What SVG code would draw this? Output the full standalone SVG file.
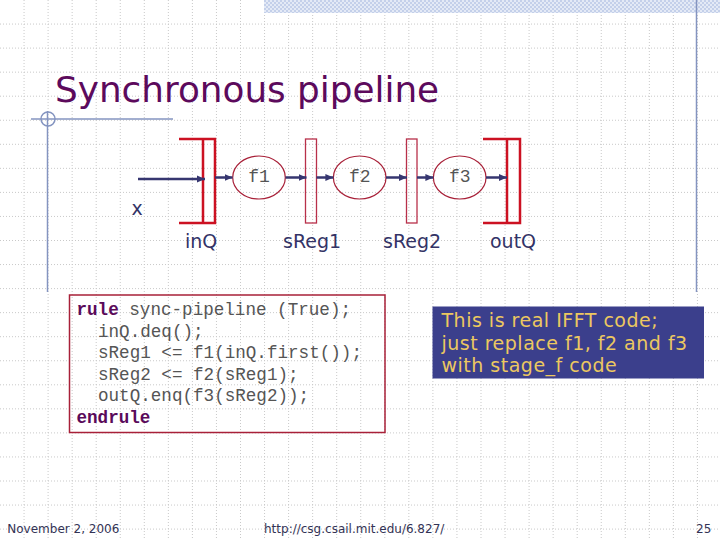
<svg xmlns="http://www.w3.org/2000/svg" width="720" height="540" viewBox="0 0 720 540">
<defs>
<pattern id="hatch" width="4" height="4" patternUnits="userSpaceOnUse">
<rect width="4" height="4" fill="#e4eaf6"/>
<rect width="2" height="2" fill="#c4d0ea"/>
<rect x="2" y="2" width="2" height="2" fill="#c4d0ea"/>
</pattern>
<marker id="ah" markerUnits="userSpaceOnUse" markerWidth="9" markerHeight="8" refX="8" refY="4" orient="auto">
<path d="M0,0.5 L8,4 L0,7.5 z" fill="#363670"/>
</marker>
<style>
.grid{stroke:#c9c9c9;stroke-width:1;stroke-dasharray:1 2;fill:none}
.deco{stroke:#8494c0;stroke-width:1.5;fill:none}
.q{stroke:#cc1122;stroke-width:2.5;fill:none}
.reg{stroke:#b8304a;stroke-width:1.3;fill:none}
.fn{stroke:#a82038;stroke-width:1.2;fill:none}
.arr{stroke:#363670;stroke-width:2.5;fill:none;marker-end:url(#ah)}
.fl{font-family:"Liberation Mono","DejaVu Sans Mono",monospace;font-size:18px;fill:#555555;text-anchor:middle}
.lbl{font-family:"DejaVu Sans",Verdana,sans-serif;font-size:19px;fill:#333366}
.code{font-family:"Liberation Mono","DejaVu Sans Mono",monospace;font-size:17.6px;fill:#555555}
.kw{font-weight:bold;fill:#5a0a5a}
.note{font-family:"DejaVu Sans",Verdana,sans-serif;font-size:19px;letter-spacing:0.5px;fill:#ecc860}
.foot{font-family:"DejaVu Sans",Tahoma,sans-serif;font-size:12px;fill:#333355}
</style>
</defs>
<rect width="720" height="540" fill="#ffffff"/>
<g id="grid">
<path class="grid" d="M24.05,0V540M48.1,0V540M72.15,0V540M96.2,0V540M120.25,0V540M144.3,0V540M168.35,0V540M192.4,0V540M216.45,0V540M240.5,0V540M264.55,0V540M288.6,0V540M312.65,0V540M336.7,0V540M360.75,0V540M384.8,0V540M408.85,0V540M432.9,0V540M456.95,0V540M481,0V540M505.05,0V540M529.1,0V540M553.15,0V540M577.2,0V540M601.25,0V540M625.3,0V540M649.35,0V540M673.4,0V540M697.45,0V540M0,24.05H720M0,48.1H720M0,72.15H720M0,96.2H720M0,120.25H720M0,144.3H720M0,168.35H720M0,192.4H720M0,216.45H720M0,240.5H720M0,264.55H720M0,288.6H720M0,312.65H720M0,336.7H720M0,360.75H720M0,384.8H720M0,408.85H720M0,432.9H720M0,456.95H720M0,481H720M0,505.05H720M0,529.1H720"/>
</g>
<g id="decor">
<rect x="264" y="0" width="456" height="13" fill="url(#hatch)"/>
<line class="deco" x1="696.5" y1="0" x2="696.5" y2="292"/>
<line class="deco" x1="31" y1="119" x2="173" y2="119"/>
<line class="deco" x1="47.5" y1="111" x2="47.5" y2="292"/>
<circle class="deco" cx="48" cy="119" r="7" stroke-width="1"/>
</g>
<text id="title" x="55" y="102" font-family="'DejaVu Sans',Verdana,sans-serif" font-size="35.8" fill="#5c0a5c">Synchronous pipeline</text>
<g id="inQ">
<path class="q" d="M179,139H215V223H179M203,139V223"/>
<text class="lbl" x="185" y="247.5">inQ</text>
</g>
<g id="f1">
<ellipse class="fn" cx="259" cy="177.5" rx="26.3" ry="21.5"/>
<text class="fl" x="259" y="182">f1</text>
</g>
<g id="sReg1">
<rect class="reg" x="305.5" y="139" width="11" height="84"/>
<text class="lbl" x="283" y="247.5">sReg1</text>
</g>
<g id="f2">
<ellipse class="fn" cx="359.7" cy="177.5" rx="26.3" ry="21.5"/>
<text class="fl" x="359.7" y="182">f2</text>
</g>
<g id="sReg2">
<rect class="reg" x="406.5" y="139" width="10.5" height="84"/>
<text class="lbl" x="383" y="247.5">sReg2</text>
</g>
<g id="f3">
<ellipse class="fn" cx="459.7" cy="177.5" rx="26.3" ry="21.5"/>
<text class="fl" x="459.7" y="182">f3</text>
</g>
<g id="outQ">
<path class="q" d="M483,139H520V223H483M507,139V223"/>
<text class="lbl" x="490" y="247.5">outQ</text>
</g>
<g id="input">
<text class="lbl" x="131.5" y="215">x</text>
</g>
<g id="connectors">
<line class="arr" x1="138" y1="179" x2="205" y2="179"/>
<line class="arr" x1="215" y1="177.5" x2="232.5" y2="177.5"/>
<line class="arr" x1="285.5" y1="177.5" x2="306.5" y2="177.5"/>
<line class="arr" x1="316.5" y1="177.5" x2="333.4" y2="177.5"/>
<line class="arr" x1="386" y1="177.5" x2="407" y2="177.5"/>
<line class="arr" x1="417" y1="177.5" x2="433.4" y2="177.5"/>
<line class="arr" x1="486" y1="177.5" x2="507" y2="177.5"/>
</g>
<g id="code">
<rect x="69.5" y="295" width="315.5" height="137.5" fill="none" stroke="#a82038" stroke-width="1.5"/>
<text class="code" x="76.5" y="315"><tspan class="kw">rule</tspan> sync-pipeline (True);</text>
<text class="code" x="98" y="336.5">inQ.deq();</text>
<text class="code" x="98" y="358">sReg1 &lt;= f1(inQ.first());</text>
<text class="code" x="98" y="379.5">sReg2 &lt;= f2(sReg1);</text>
<text class="code" x="98" y="401">outQ.enq(f3(sReg2));</text>
<text class="code kw" x="76.5" y="422.5">endrule</text>
</g>
<g id="note">
<rect x="432.5" y="306.5" width="271.5" height="72" fill="#3b3f8c"/>
<text class="note" x="441.5" y="327">This is real IFFT code;</text>
<text class="note" x="441.5" y="349.5">just replace f1, f2 and f3</text>
<text class="note" x="441.5" y="372">with stage_f code</text>
</g>
<g id="footer">
<text class="foot" x="7.3" y="533.3">November 2, 2006</text>
<text class="foot" x="264" y="533.3" font-size="12.5">http://csg.csail.mit.edu/6.827/</text>
<text class="foot" x="696" y="533.3" font-size="13.5">25</text>
</g>
</svg>
